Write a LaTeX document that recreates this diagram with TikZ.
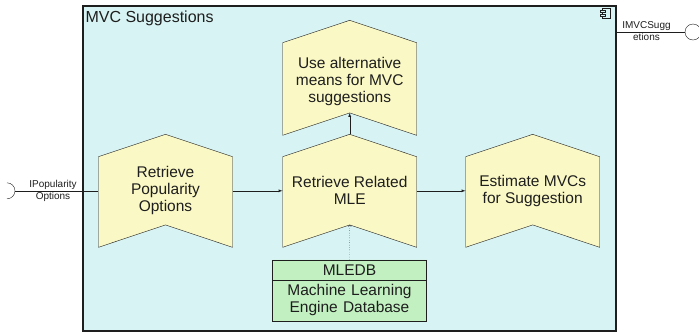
\documentclass[tikz,border=0pt]{standalone}
\usepackage{fontspec}
\setmainfont{Liberation Sans}
\usetikzlibrary{positioning}
\usetikzlibrary{calc}
\usetikzlibrary{arrows,shapes}

\definecolor{pkgfill}{RGB}{216,243,243}
\definecolor{actfill}{RGB}{250,248,196}
\definecolor{dbfill}{RGB}{194,240,192}
\definecolor{ink}{RGB}{30,30,30}

\begin{document}
\begin{tikzpicture}[x=1pt,y=-1pt]
\tikzstyle{chev} =[draw=ink,fill=actfill]
\tikzstyle{activity} =[align=center,text=ink,minimum width=134pt,inner sep=0pt,font=\fontsize{15.5}{17}\selectfont]
\tikzstyle{iface} =[text=ink,inner sep=1pt,font=\fontsize{10}{11}\selectfont]
\useasboundingbox (0,0) rectangle (699,333);

% subsystem frame
\node[draw=ink,line width=1.3pt,fill=pkgfill,minimum width=533pt,minimum height=325pt,inner sep=0pt](pkg) at (349.5,168.5) {};
\node[anchor=west,text=ink,inner sep=0pt,font=\fontsize{16}{18}\selectfont](title) at ($(pkg.north west)+(3,13)$) {MVC Suggestions};
% component icon
\draw[ink,fill=pkgfill] ($(pkg.north east)+(-14,3)$) rectangle +(8,10);
\draw[ink,fill=pkgfill] ($(pkg.north east)+(-16.5,5)$) rectangle +(5,2);
\draw[ink,fill=pkgfill] ($(pkg.north east)+(-16.5,9)$) rectangle +(5,2);

% activities: outline first, text on top
\coordinate (popC) at (165.5,202);
\filldraw[chev,shift={(popC)}] (-67,-45.3)--(0,-67.7)--(67,-45.3)--(67,45.3)--(0,22.9)--(-67,45.3)--cycle;
\node[activity](pop) at ($(popC)+(0,-11.2)$) {Retrieve\\Popularity\\Options};

\coordinate (relC) at (349.7,202);
\filldraw[chev,shift={(relC)}] (-67,-45.3)--(0,-67.7)--(67,-45.3)--(67,45.3)--(0,22.9)--(-67,45.3)--cycle;
\node[activity](rel) at ($(relC)+(0,-11.2)$) {Retrieve Related\\MLE};
\coordinate (relTip) at ($(relC)+(0,-67.7)$);
\coordinate (relNotch) at ($(relC)+(0,22.9)$);

\coordinate (estC) at (532.7,202);
\filldraw[chev,shift={(estC)}] (-67,-45.3)--(0,-67.7)--(67,-45.3)--(67,45.3)--(0,22.9)--(-67,45.3)--cycle;
\node[activity](est) at ($(estC)+(0,-11.2)$) {Estimate MVCs\\for Suggestion};

\coordinate (altC) at (349.7,89);
\filldraw[chev,shift={(altC)}] (-67,-46.3)--(0,-68.7)--(67,-46.3)--(67,46.3)--(0,23.9)--(-67,46.3)--cycle;
\node[activity](alt) at ($(altC)+(0,-8)$) {Use alternative\\means for MVC\\suggestions};
\coordinate (altNotch) at ($(altC)+(0,23.9)$);

\node[rectangle split,rectangle split parts=2,draw=ink,fill=dbfill,text width=148pt,align=center,inner xsep=3pt,inner ysep=4.5pt,text=ink,font=\fontsize{15.5}{17}\selectfont](db) at (349.5,290.3) {MLEDB\nodepart{second}Machine Learning\\Engine Database};

\draw[ink,-latex] (pop.east)--(rel.west);
\draw[ink,-latex] (rel.east)--(est.west);
\draw[ink,-latex] (relTip)--(altNotch);
\draw[ink,dotted,->] (db.north)--(relNotch);

% required interface
\coordinate (sock) at (7,190.8);
\coordinate (sockR) at (15,190.8);
\draw[ink] (sock) ++(0,8) arc[start angle=90,end angle=-90,radius=8];
\draw[ink] (sockR)--(pop.west);
\node[iface,anchor=south](popTop) at (53,190.8) {IPopularity};
\node[iface,anchor=north](popBot) at (53,190.8) {Options};

% provided interface
\node[circle,draw=ink,minimum size=16pt,inner sep=0pt](ball) at (693,32) {};
\draw[ink] (pkg.east |- ball)--(ball);
\node[iface,anchor=south](ballTop) at (646.5,32) {IMVCSugg};
\node[iface,anchor=north](ballBot) at (646.5,32) {etions};
\end{tikzpicture}
\end{document}
